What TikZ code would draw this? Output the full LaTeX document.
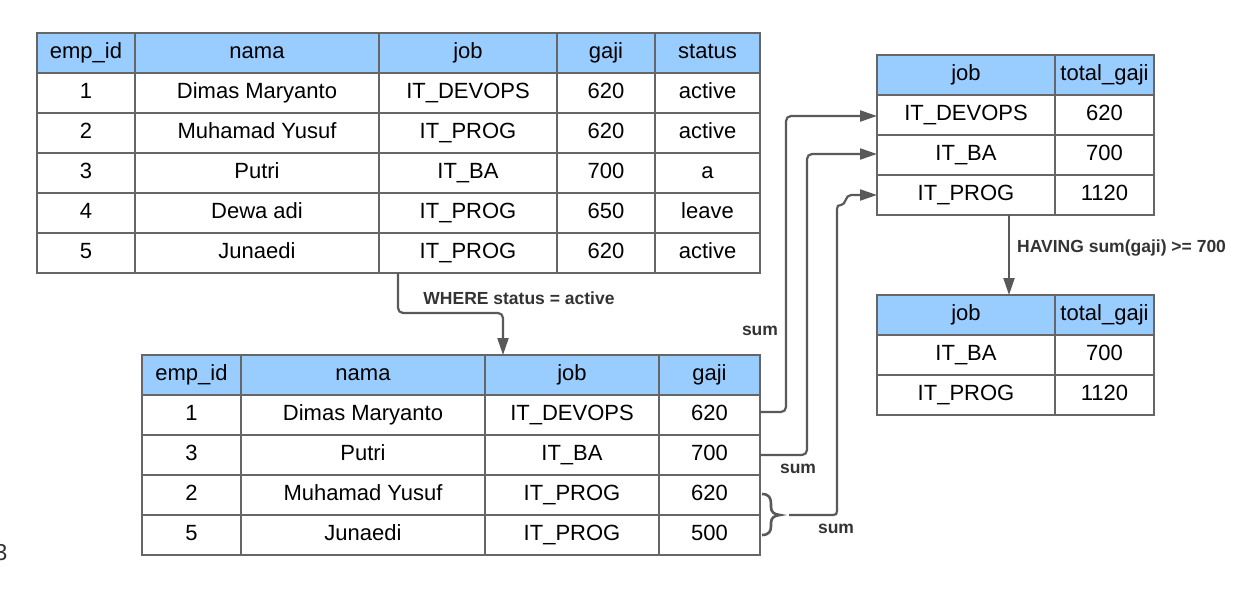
\documentclass[tikz,border=0pt]{standalone}
\usepackage{fontspec}
\setmainfont{Liberation Sans}
\usetikzlibrary{arrows.meta,calc}
\definecolor{hdr}{HTML}{99CCFF}
\definecolor{bord}{HTML}{666666}
\definecolor{conncol}{HTML}{595959}
\definecolor{lblcol}{HTML}{333333}
\tikzset{
 cell/.style={draw=bord, line width=1.2pt, inner sep=0pt, outer sep=0pt, minimum height=40pt,
   text height=16pt, text depth=5pt, font=\fontsize{22}{26}\selectfont, anchor=center},
 hcell/.style={cell, fill=hdr},
 conn/.style={draw=conncol, line width=2.2pt, -{Triangle[length=17pt,width=11pt]}},
 brc/.style={draw=conncol, line width=2.6pt},
 lbl/.style={text=lblcol, font=\fontsize{17.5}{20}\selectfont\bfseries, inner sep=0pt, anchor=base},
}
\begin{document}
\begin{tikzpicture}[x=1pt,y=-1pt]
\useasboundingbox (0,0) rectangle (1260,596);

% ---------- top-left table ----------
\node[hcell, minimum width=98pt]  (A-0-a) at (86,53)    {emp\_id};
\node[hcell, minimum width=244pt] (A-0-b) at (257,53)   {nama};
\node[hcell, minimum width=178pt] (A-0-c) at (468,53)   {job};
\node[hcell, minimum width=98pt]  (A-0-d) at (606,53)   {gaji};
\node[hcell, minimum width=105pt] (A-0-e) at (707.5,53) {status};
\foreach \yy/\k/\a/\b/\c/\d/\e in {93/1/1/Dimas Maryanto/IT\_DEVOPS/620/active,
  133/2/2/Muhamad Yusuf/IT\_PROG/620/active, 173/3/3/Putri/IT\_BA/700/a,
  213/4/4/Dewa adi/IT\_PROG/650/leave, 253/5/5/Junaedi/IT\_PROG/620/active}{
  \node[cell, minimum width=98pt]  (A-\k-a) at (86,\yy)    {\a};
  \node[cell, minimum width=244pt] (A-\k-b) at (257,\yy)   {\b};
  \node[cell, minimum width=178pt] (A-\k-c) at (468,\yy)   {\c};
  \node[cell, minimum width=98pt]  (A-\k-d) at (606,\yy)   {\d};
  \node[cell, minimum width=105pt] (A-\k-e) at (707.5,\yy) {\e};
}

% ---------- bottom table ----------
\node[hcell, minimum width=99pt]  (B-0-a) at (191.5,375) {emp\_id};
\node[hcell, minimum width=244pt] (B-0-b) at (363,375)   {nama};
\node[hcell, minimum width=174pt] (B-0-c) at (572,375)   {job};
\node[hcell, minimum width=101pt] (B-0-d) at (709.5,375) {gaji};
\foreach \yy/\k/\a/\b/\c/\d in {415/1/1/Dimas Maryanto/IT\_DEVOPS/620,
  455/2/3/Putri/IT\_BA/700, 495/3/2/Muhamad Yusuf/IT\_PROG/620,
  535/4/5/Junaedi/IT\_PROG/500}{
  \node[cell, minimum width=99pt]  (B-\k-a) at (191.5,\yy) {\a};
  \node[cell, minimum width=244pt] (B-\k-b) at (363,\yy)   {\b};
  \node[cell, minimum width=174pt] (B-\k-c) at (572,\yy)   {\c};
  \node[cell, minimum width=101pt] (B-\k-d) at (709.5,\yy) {\d};
}

% ---------- right top table ----------
\node[hcell, minimum width=178pt] (R-0-a) at (966,75)    {job};
\node[hcell, minimum width=99pt]  (R-0-b) at (1104.5,75) {total\_gaji};
\foreach \yy/\k/\a/\b in {115/1/IT\_DEVOPS/620, 155/2/IT\_BA/700, 195/3/IT\_PROG/1120}{
  \node[cell, minimum width=178pt] (R-\k-a) at (966,\yy)    {\a};
  \node[cell, minimum width=99pt]  (R-\k-b) at (1104.5,\yy) {\b};
}

% ---------- right bottom table ----------
\node[hcell, minimum width=178pt] (Q-0-a) at (966,315)    {job};
\node[hcell, minimum width=99pt]  (Q-0-b) at (1104.5,315) {total\_gaji};
\foreach \yy/\k/\a/\b in {355/1/IT\_BA/700, 395/2/IT\_PROG/1120}{
  \node[cell, minimum width=178pt] (Q-\k-a) at (966,\yy)    {\a};
  \node[cell, minimum width=99pt]  (Q-\k-b) at (1104.5,\yy) {\b};
}

% ---------- connectors ----------
\draw[conn, rounded corners=5pt] ([xshift=19pt]A-5-c.south west) -- ++(0,40) -| ([xshift=18pt]B-0-c.north west);
\node[lbl] (where) at (519,304) {WHERE status = active};

\draw[conn, rounded corners=5pt] ([yshift=3pt]B-1-d.east) -- ++(26,0) |- ([yshift=-1pt]R-1-a.west);
\draw[conn, rounded corners=5pt] (B-2-d.east) -- ++(47,0) |- ([yshift=1pt]R-2-a.west);

\coordinate (bracetip) at ([xshift=20pt]B-3-d.south east);
\draw[brc] (762,494) .. controls (769,494) and (771,498) .. (771,504) -- (771,507)
  .. controls (771,512) and (774,514.5) .. (bracetip)
  .. controls (774,515.5) and (771,518) .. (771,523) -- (771,526)
  .. controls (771,531) and (769,535) .. (762,535);
\draw[conn] ([xshift=9pt]bracetip) -- (833,515) .. controls (836,515) and (837,514) .. (837,511)
  -- (837,209) .. controls (837,206) and (838,205) .. (841,205)
  .. controls (846,205) and (845,195) .. (851,195) -- (R-3-a.west);

\node[lbl] (sum1) at (760,335) {sum};
\node[lbl] (sum2) at (798,473) {sum};
\node[lbl] (sum3) at (836,533) {sum};

\draw[conn] ([xshift=43pt]R-3-a.south) -- ([xshift=43pt]Q-0-a.north);
\node[lbl, anchor=base west] (having) at (1017,252) {HAVING sum(gaji) >= 700};

\node[text=lblcol, font=\fontsize{23}{26}\selectfont, anchor=base east, inner sep=0pt] (pagenum) at (7.5,560) {3};
\end{tikzpicture}
\end{document}
